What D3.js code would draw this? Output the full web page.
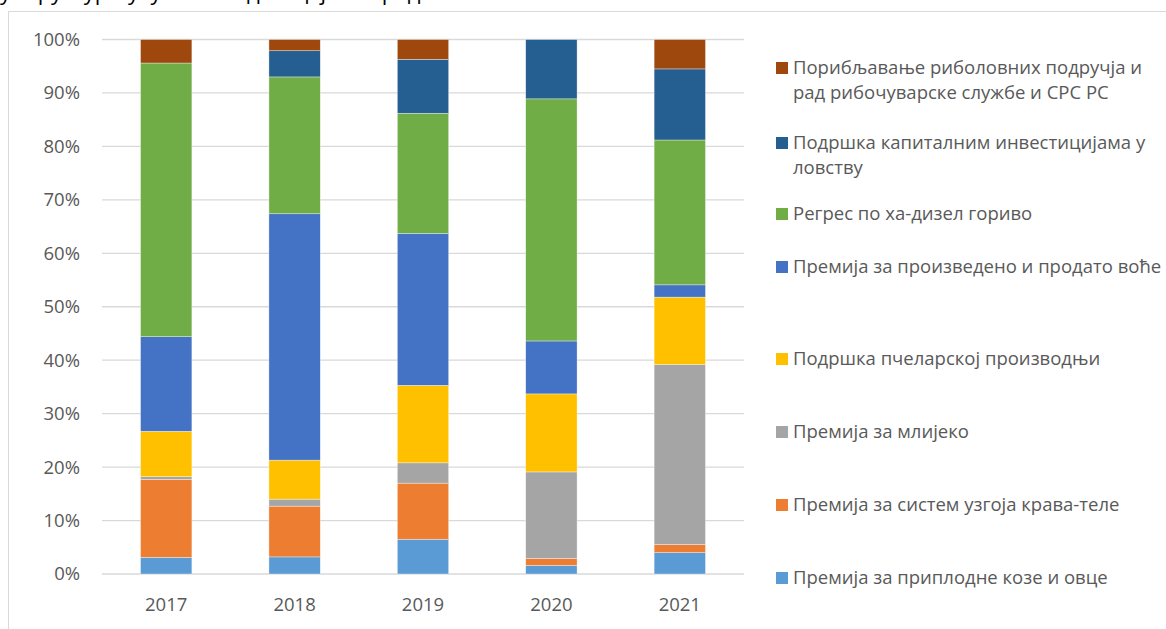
<!DOCTYPE html>
<html>
<head>
<meta charset="utf-8">
<script src="https://cdn.jsdelivr.net/npm/d3@7"></script>
<style>
  body { margin: 0; background: #fff; }
  text { font-family: "Open Sans", "Noto Sans", sans-serif; fill: #595959; }
</style>
</head>
<body>
<div class="chart"></div>
<script>
// years on the x axis
var years = ["2017", "2018", "2019", "2020", "2021"];

// series, bottom of the stack first
var series = [
  "Премија за приплодне козе и овце",
  "Премија за систем узгоја крава-теле",
  "Премија за млијеко",
  "Подршка пчеларској производњи",
  "Премија за произведено и продато воће",
  "Регрес по ха-дизел гориво",
  "Подршка капиталним инвестицијама у ловству",
  "Порибљавање риболовних подручја и рад рибочуварске службе и СРС РС"
];

// shares in percent, one array per series (2017..2021)
var kozeOvce      = [3.1, 3.2, 6.5, 1.6, 4.0];
var kravaTele     = [14.6, 9.5, 10.5, 1.3, 1.5];
var mlijeko       = [0.5, 1.3, 3.8, 16.2, 33.7];
var pcelarstvo    = [8.5, 7.3, 14.5, 14.6, 12.6];
var voce          = [17.7, 46.1, 28.4, 9.9, 2.3];
var dizel         = [51.2, 25.6, 22.5, 45.3, 27.1];
var lovstvo       = [0, 4.9, 10.1, 11.1, 13.3];
var ribolov       = [4.4, 2.1, 3.7, 0, 5.5];

var yTicks = [0, 10, 20, 30, 40, 50, 60, 70, 80, 90, 100];

// legend text as wrapped in the picture, top entry first
var legendLines = [
  ["Порибљавање риболовних подручја и", "рад рибочуварске службе и СРС РС"],
  ["Подршка капиталним инвестицијама у", "ловству"],
  ["Регрес по ха-дизел гориво"],
  ["Премија за произведено и продато воће"],
  ["Подршка пчеларској производњи"],
  ["Премија за млијеко"],
  ["Премија за систем узгоја крава-теле"],
  ["Премија за приплодне козе и овце"]
];

var colors = ["#5B9BD5", "#ED7D31", "#A5A5A5", "#FFC000", "#4472C4", "#70AD47", "#255E91", "#9E480E"];

var values = [kozeOvce, kravaTele, mlijeko, pcelarstvo, voce, dizel, lovstvo, ribolov];
var rows = years.map(function(y, i) {
  var r = { year: y };
  series.forEach(function(s, k) { r[s] = values[k][i]; });
  return r;
});

var W = 1166, H = 629;
var svg = d3.select("div.chart").append("svg")
  .attr("width", W)
  .attr("height", H);

// frame of the chart object (cut at right/bottom)
svg.append("rect")
  .attr("x", 8.5).attr("y", 11.5)
  .attr("width", 1300).attr("height", 800)
  .attr("fill", "none")
  .attr("stroke", "#d9d9d9")
  .attr("stroke-width", 1);

// caption line above, mostly cut off
svg.append("text")
  .attr("x", 0)
  .attr("y", 0)
  .attr("font-size", "22px")
  .style("fill", "#000")
  .text("у структури укупних подстицајних средстава");

var x = d3.scaleBand()
  .domain(years)
  .range([102, 744]);

var y = d3.scaleLinear()
  .domain([0, 100])
  .range([574, 39.5]);

// gridlines
svg.append("g")
  .selectAll("line")
  .data(yTicks)
  .enter()
  .append("line")
  .attr("x1", 102)
  .attr("x2", 744)
  .attr("y1", function(d) { return y(d); })
  .attr("y2", function(d) { return y(d); })
  .attr("stroke", "#d9d9d9")
  .attr("stroke-width", 1.3);

// y labels
svg.append("g")
  .selectAll("text")
  .data(yTicks)
  .enter()
  .append("text")
  .attr("x", 80)
  .attr("y", function(d) { return y(d); })
  .attr("dy", "0.35em")
  .attr("text-anchor", "end")
  .attr("font-size", "18.5px")
  .text(function(d) { return d + "%"; });

// x labels
svg.append("g")
  .selectAll("text")
  .data(years)
  .enter()
  .append("text")
  .attr("x", function(d) { return x(d) + x.bandwidth() / 2; })
  .attr("y", 605)
  .attr("dy", "0.35em")
  .attr("text-anchor", "middle")
  .attr("font-size", "18.5px")
  .text(function(d) { return d; });

var stack = d3.stack().keys(series);
var layers = stack(rows);
var barW = x.bandwidth() * 0.4;

svg.append("g")
  .selectAll("g")
  .data(layers)
  .enter()
  .append("g")
  .attr("fill", function(d, i) { return colors[i]; })
  .selectAll("rect")
  .data(function(d) { return d; })
  .enter()
  .append("rect")
  .attr("x", function(d) { return x(d.data.year) + (x.bandwidth() - barW) / 2; })
  .attr("width", barW)
  .attr("y", function(d) { return y(d[1]); })
  .attr("height", function(d) { return y(d[0]) - y(d[1]); })
  .attr("stroke", "#fff")
  .attr("stroke-width", 0.6)
  .attr("stroke-opacity", function(d) { return d[1] - d[0] > 0 ? 0.6 : 0; });

// legend
var legendY = [68, 143, 214, 267, 359, 432, 505, 578];
var legendColors = colors.slice().reverse();
var leg = svg.append("g")
  .selectAll("g")
  .data(legendLines)
  .enter()
  .append("g")
  .attr("transform", function(d, i) { return "translate(776," + legendY[i] + ")"; });

leg.append("rect")
  .attr("x", 0).attr("y", -6)
  .attr("width", 12).attr("height", 12)
  .attr("fill", function(d, i) { return legendColors[i]; });

leg.selectAll("text")
  .data(function(d) { return d; })
  .enter()
  .append("text")
  .attr("x", 17)
  .attr("y", function(d, j) { return j * 24.5; })
  .attr("dy", "0.35em")
  .attr("font-size", "18.5px")
  .text(function(d) { return d; });
</script>
</body>
</html>
